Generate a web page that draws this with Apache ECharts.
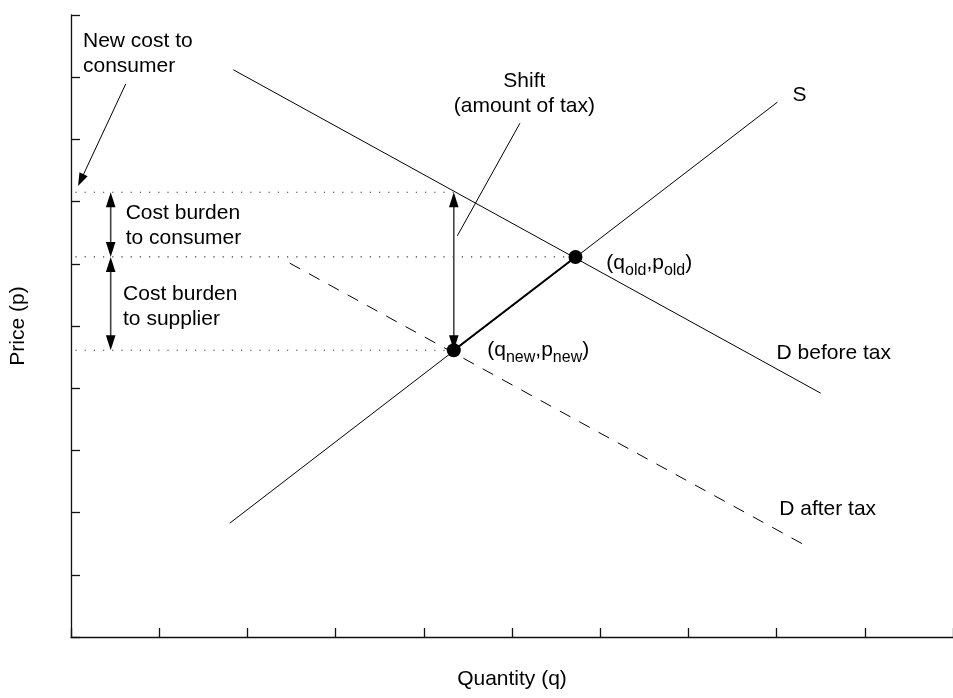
<!DOCTYPE html>
<html><head><meta charset="utf-8">
<script src="https://cdn.jsdelivr.net/npm/echarts@6/dist/echarts.min.js"></script>
<style>html,body{margin:0;padding:0;background:#fff}#c{width:953px;height:698px}</style>
</head><body><div id="c"></div>
<script>
// ---- data (axis units) ----
const demandBefore = [[1.84, 9.12], [8.50, 3.92]];
const supply = [[1.80, 1.83], [8.01, 8.60]];
const demandAfter = [[2.48, 6.01], [8.38, 1.43]];
const equilibriumOld = [5.72, 6.11];
const equilibriumNew = [4.34, 4.61];
const priceConsumer = 7.15;
const guideStartX = 0.05;
// arrows: x1, y1, x2, y2, headAtStart, headAtEnd, kind (0 = gray arrow, 1 = black pointer)
const arrows = [
  [4.34, 4.61, 4.34, 7.15, 1, 1, 0],
  [0.45, 7.15, 0.45, 6.11, 1, 1, 0],
  [0.45, 6.11, 0.45, 4.61, 1, 1, 0],
  [0.62, 8.89, 0.08, 7.25, 0, 1, 1],
  [5.09, 8.26, 4.38, 6.45, 0, 0, 1]
];
// labels: x, y (anchor), text, align
const labelPos = [[0.136, 9.38], [0.62, 6.62], [0.59, 5.31], [5.14, 8.74], [8.26, 8.71], [6.07, 6.01], [4.72, 4.61], [8.00, 4.57], [8.03, 2.06]];
const labelText = ['New cost to\nconsumer', 'Cost burden\nto consumer', 'Cost burden\nto supplier', 'Shift\n(amount of tax)', 'S', '(q{s|old},p{s|old})', '(q{s|new},p{s|new})', 'D before tax', 'D after tax'];
const labelAlign = ['left', 'left', 'left', 'center', 'center', 'left', 'left', 'left', 'left'];
const xAxisName = 'Quantity (q)';
const yAxisName = 'Price (p)';

const FONT = 'Liberation Sans, Arial, Helvetica, sans-serif';
const chart = echarts.init(document.getElementById('c'), null, {renderer: 'canvas'});

function lineSeries(data, style) {
  return {type: 'line', data: data, symbol: 'none', silent: true, animation: false,
          lineStyle: Object.assign({color: '#000', width: 1}, style), z: 2};
}
const guideStyle = {color: '#333', width: 1.2, type: [1.2, 8]};

const axisCommon = {
  type: 'value', min: 0, max: 10, interval: 1,
  axisLabel: {show: false}, splitLine: {show: false},
  axisLine: {show: true, lineStyle: {color: '#111', width: 1.3}},
  axisTick: {show: true, inside: true, length: 9, lineStyle: {color: '#111', width: 1.3}},
  nameLocation: 'middle',
  nameTextStyle: {fontSize: 21, color: '#000', fontFamily: FONT}
};

chart.setOption({
  backgroundColor: '#fff',
  animation: false,
  grid: {left: 71, top: 15, width: 884, height: 622, containLabel: false},
  xAxis: Object.assign({}, axisCommon, {name: xAxisName, nameGap: 32}),
  yAxis: Object.assign({}, axisCommon, {name: yAxisName, nameGap: 42}),
  series: [
    lineSeries(demandBefore, {}),
    lineSeries(supply, {}),
    lineSeries(demandAfter, {type: [12, 10]}),
    lineSeries([equilibriumNew, equilibriumOld], {width: 2}),
    lineSeries([[guideStartX, priceConsumer], [equilibriumNew[0], priceConsumer]], guideStyle),
    lineSeries([[guideStartX, equilibriumOld[1]], equilibriumOld], guideStyle),
    lineSeries([[guideStartX, equilibriumNew[1]], equilibriumNew], guideStyle),
    {
      type: 'custom', silent: true, z: 5,
      data: arrows,
      encode: {x: [0, 2], y: [1, 3]},
      renderItem: function (params, api) {
        const p1 = api.coord([api.value(0), api.value(1)]);
        const p2 = api.coord([api.value(2), api.value(3)]);
        const hs = api.value(4), he = api.value(5), kind = api.value(6);
        const dx = p2[0] - p1[0], dy = p2[1] - p1[1];
        const len = Math.hypot(dx, dy), ux = dx / len, uy = dy / len;
        const L = kind === 0 ? 15 : 13, W = kind === 0 ? 4.8 : 4.5;
        const a = hs ? [p1[0] + ux * L * 0.8, p1[1] + uy * L * 0.8] : p1;
        const b = he ? [p2[0] - ux * L * 0.8, p2[1] - uy * L * 0.8] : p2;
        const children = [{
          type: 'line', shape: {x1: a[0], y1: a[1], x2: b[0], y2: b[1]},
          style: {stroke: kind === 0 ? '#444' : '#000', lineWidth: kind === 0 ? 1.6 : 1}
        }];
        function head(tip, vx, vy) {
          const bx = tip[0] - vx * L, by = tip[1] - vy * L;
          return {type: 'polygon', shape: {points: [tip, [bx - vy * W, by + vx * W], [bx + vy * W, by - vx * W]]},
                  style: {fill: '#000', stroke: null}};
        }
        if (he) children.push(head(p2, ux, uy));
        if (hs) children.push(head(p1, -ux, -uy));
        return {type: 'group', children: children};
      }
    },
    {
      type: 'scatter', data: [equilibriumOld, equilibriumNew], symbol: 'circle', symbolSize: 14,
      itemStyle: {color: '#000', opacity: 1}, silent: true, z: 6
    },
    {
      type: 'custom', silent: true, z: 7,
      data: labelPos,
      encode: {x: 0, y: 1},
      renderItem: function (params, api) {
        const p = api.coord([api.value(0), api.value(1)]);
        const i = params.dataIndex;
        return {
          type: 'text', x: p[0], y: p[1],
          style: {
            text: labelText[i], fill: '#000', fontSize: 21, fontFamily: FONT,
            align: labelAlign[i], verticalAlign: 'middle', lineHeight: 25,
            rich: {s: {fontSize: 16, fontFamily: FONT, fill: '#000', padding: [14, 0, 0, 0]}}
          }
        };
      }
    }
  ]
});
</script>
</body></html>
